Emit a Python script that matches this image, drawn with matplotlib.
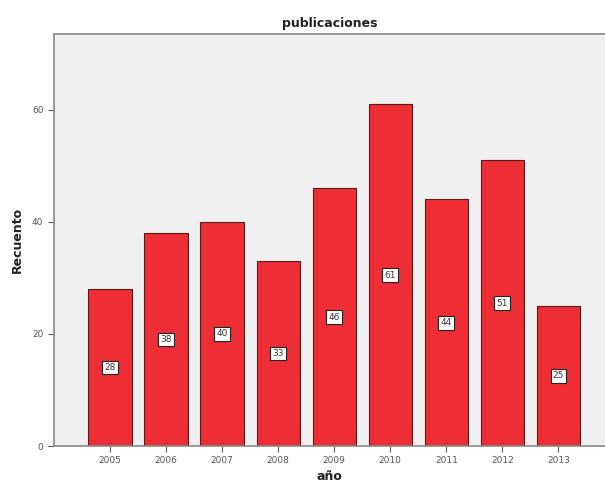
import matplotlib.pyplot as plt

# publicaciones por año
anios = ['2005', '2006', '2007', '2008', '2009', '2010', '2011', '2012', '2013']
recuento = [28, 38, 40, 33, 46, 61, 44, 51, 25]

fig = plt.figure(figsize=(6.05, 4.88), dpi=100)
ax = fig.add_axes([0.089, 0.086, 0.911, 0.844])
ax.set_facecolor('#f0f0f0')

x = list(range(len(anios)))
ax.bar(x, recuento, width=0.77, color='#ef2d35', edgecolor='#5a1a1a', linewidth=0.8, zorder=2)

# etiquetas con el valor en el centro de cada barra
for xi, v in zip(x, recuento):
    ax.text(xi, v / 2, str(v), ha='center', va='center', fontsize=6.5, color='#333333',
            bbox=dict(boxstyle='square,pad=0.25', facecolor='white', edgecolor='#222222', linewidth=0.8),
            zorder=3)

ax.set_xlim(-1, 8.83)
ax.set_ylim(0, 73.5)
ax.set_xticks(x)
ax.set_xticklabels(anios)
ax.set_yticks([0, 20, 40, 60])
ax.tick_params(axis='both', labelsize=6.5, labelcolor='#555555', color='#555555', length=4, width=0.8)

for s in ax.spines.values():
    s.set_color('#888888')
    s.set_linewidth(1.2)
ax.spines['right'].set_visible(False)

ax.set_title('publicaciones', fontsize=9, fontweight='bold', color='#222222', pad=5)
ax.set_xlabel('año', fontsize=9, fontweight='bold', color='#222222', labelpad=3)
ax.set_ylabel('Recuento', fontsize=9, fontweight='bold', color='#222222', labelpad=6)

fig.savefig('out.png', dpi=100)
